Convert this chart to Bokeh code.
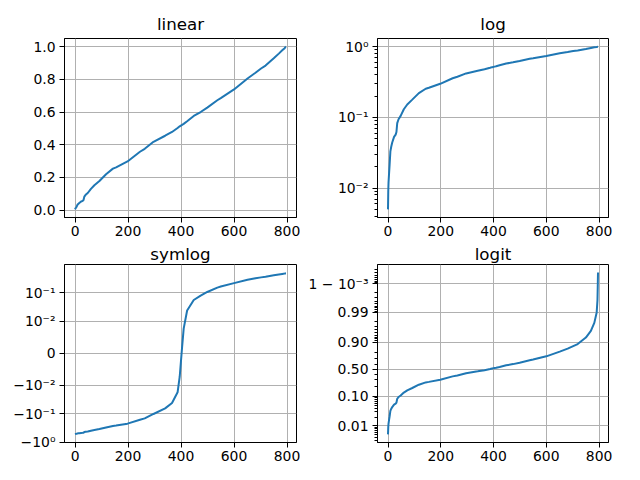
import numpy as np
from bokeh.plotting import figure
from bokeh.layouts import column, row
from bokeh.models import (FixedTicker, SingleIntervalTicker, CustomJSTickFormatter,
                          PrintfTickFormatter, Range1d)
from bokeh.embed import file_html
from bokeh.resources import INLINE

# ---- data (sorted sample, index vs value) ----
x_vals = [0, 1, 2, 4, 6, 9, 12, 16, 23, 29, 32, 35, 40, 48, 60, 73, 92, 117, 143, 155,
          198, 245, 263, 296, 340, 366, 387, 395, 404, 410, 423, 448, 474, 499, 537, 550,
          600, 651, 681, 702, 719, 750, 769, 782, 791, 794, 795, 796]
y_vals = [0.005, 0.009, 0.012, 0.016, 0.021, 0.033, 0.038, 0.044, 0.053, 0.057, 0.062,
          0.083, 0.094, 0.105, 0.130, 0.152, 0.178, 0.220, 0.254, 0.262,
          0.298, 0.357, 0.375, 0.418, 0.455, 0.478, 0.502, 0.5125, 0.5218, 0.5276, 0.544,
          0.576, 0.600, 0.627, 0.672, 0.685,
          0.738, 0.805, 0.840, 0.866, 0.884, 0.928, 0.957, 0.977, 0.990, 0.9963, 0.9987, 0.9996]

titles = ["linear", "log", "symlog", "logit"]

log_ticks = [0.01, 0.1, 1.0]
log_labels = ["10\u207b\u00b2", "10\u207b\u00b9", "10\u2070"]
log_minor = [m * 10.0 ** k for k in (-3, -2, -1) for m in range(2, 10)]

sym_ticks = [-1.0, -0.1, -0.01, 0.0, 0.01, 0.1]
sym_labels = ["\u221210\u2070", "\u221210\u207b\u00b9", "\u221210\u207b\u00b2", "0",
              "10\u207b\u00b2", "10\u207b\u00b9"]

logit_ticks = [0.01, 0.1, 0.5, 0.9, 0.99, 0.999]
logit_labels = ["0.01", "0.10", "0.50", "0.90", "0.99", "1 \u2212 10\u207b\u00b3"]
logit_minor = ([m / 1000 for m in range(2, 10)] + [m / 100 for m in range(2, 10)] +
               [0.2, 0.3, 0.4, 0.6, 0.7, 0.8] + [1 - m / 100 for m in range(2, 10)] +
               [1 - m / 1000 for m in range(2, 10)] + [1 - m / 10000 for m in range(2, 10)])

X = np.array(x_vals, float)
Y = np.array(y_vals, float)
y_mean = np.trapezoid(Y, X) / (X[-1] - X[0])

LINTHRESH = 0.01
LINSCALE_ADJ = 1.0 / (1.0 - 1.0 / 10.0)


def symlog(v):
    v = np.asarray(v, float)
    a = np.abs(v)
    return np.where(a <= LINTHRESH, v / LINTHRESH * LINSCALE_ADJ,
                    np.sign(v) * (LINSCALE_ADJ + np.log10(np.maximum(a, 1e-300) / LINTHRESH)))


def logit10(p):
    p = np.asarray(p, float)
    return np.log10(p / (1 - p))


def margins(lo, hi, m=0.05):
    d = hi - lo
    return lo - m * d, hi + m * d


def fixed_formatter(ticks, labels):
    return CustomJSTickFormatter(args=dict(ts=[float(t) for t in ticks], ls=list(labels)), code="""
        for (let i = 0; i < ts.length; i++) {
            if (Math.abs(tick - ts[i]) <= 1e-6 * Math.max(1, Math.abs(ts[i]))) return ls[i];
        }
        return "";
    """)


xr = margins(X[0], X[-1])


def make(title, width, height, left, right, top, bottom, yr, y_type="linear", standoff=9):
    p = figure(width=width, height=height, output_backend="svg", toolbar_location=None,
               x_range=Range1d(*xr), y_range=Range1d(*yr), y_axis_type=y_type,
               min_border_left=left, min_border_right=right,
               min_border_top=top, min_border_bottom=bottom)
    p.title.text = title
    p.title.align = "center"
    p.title.text_font = "DejaVu Sans"
    p.title.text_font_size = "16.7px"
    p.title.text_font_style = "normal"
    p.title.text_color = "black"
    p.title.standoff = standoff
    p.outline_line_color = "black"
    p.outline_line_width = 1
    p.outline_line_alpha = 1
    p.background_fill_color = "white"
    p.border_fill_color = "white"
    for ax in (p.xaxis[0], p.yaxis[0]):
        ax.axis_line_color = "black"
        ax.axis_line_width = 1
        ax.major_tick_line_color = "black"
        ax.minor_tick_line_color = "black"
        ax.major_tick_out = 5
        ax.major_tick_in = 0
        ax.minor_tick_out = 3
        ax.minor_tick_in = 0
        ax.major_label_text_font = "DejaVu Sans"
        ax.major_label_text_font_size = "13.9px"
        ax.major_label_text_color = "black"
        ax.major_label_standoff = 4
    p.xaxis[0].major_label_standoff = 3
    p.xaxis[0].ticker = SingleIntervalTicker(interval=200, num_minor_ticks=0)
    p.xaxis[0].minor_tick_line_color = None
    for g in (p.xgrid[0], p.ygrid[0]):
        g.grid_line_color = "#b0b0b0"
        g.grid_line_width = 1
    return p


# linear
pA = make(titles[0], 300, 241, 64, 4, 38, 24, margins(Y.min(), Y.max()))
pA.yaxis[0].ticker = SingleIntervalTicker(interval=0.2, num_minor_ticks=0)
pA.yaxis[0].formatter = PrintfTickFormatter(format="%.1f")
pA.yaxis[0].minor_tick_line_color = None
pA.line(X, Y, line_color="#1f77b4", line_width=2)

# log
llo, lhi = margins(np.log10(Y.min()), np.log10(Y.max()))
pB = make(titles[1], 340, 241, 77, 32, 38, 24, (10 ** llo, 10 ** lhi), y_type="log")
pB.yaxis[0].ticker = FixedTicker(ticks=log_ticks, minor_ticks=log_minor)
pB.yaxis[0].formatter = fixed_formatter(log_ticks, log_labels)
pB.line(X, Y, line_color="#1f77b4", line_width=2)

# symlog
S = symlog(Y - y_mean)
pC = make(titles[2], 300, 239, 64, 4, 22, 38, (-3.115, 3.10), standoff=1)
sym_pos = symlog(sym_ticks)
pC.yaxis[0].ticker = FixedTicker(ticks=list(sym_pos), minor_ticks=[])
pC.yaxis[0].formatter = fixed_formatter(sym_pos, sym_labels)
pC.yaxis[0].minor_tick_line_color = None
pC.line(X, S, line_color="#1f77b4", line_width=2)

# logit
L = logit10(Y)
pD = make(titles[3], 340, 239, 77, 32, 22, 38, margins(L.min(), L.max()), standoff=1)
logit_pos = logit10(logit_ticks)
pD.yaxis[0].ticker = FixedTicker(ticks=list(logit_pos), minor_ticks=list(logit10(logit_minor)))
pD.yaxis[0].formatter = fixed_formatter(logit_pos, logit_labels)
pD.line(X, L, line_color="#1f77b4", line_width=2)

layout = column(row(pA, pB), row(pC, pD))
open("out.html", "w").write(file_html(layout, INLINE))
